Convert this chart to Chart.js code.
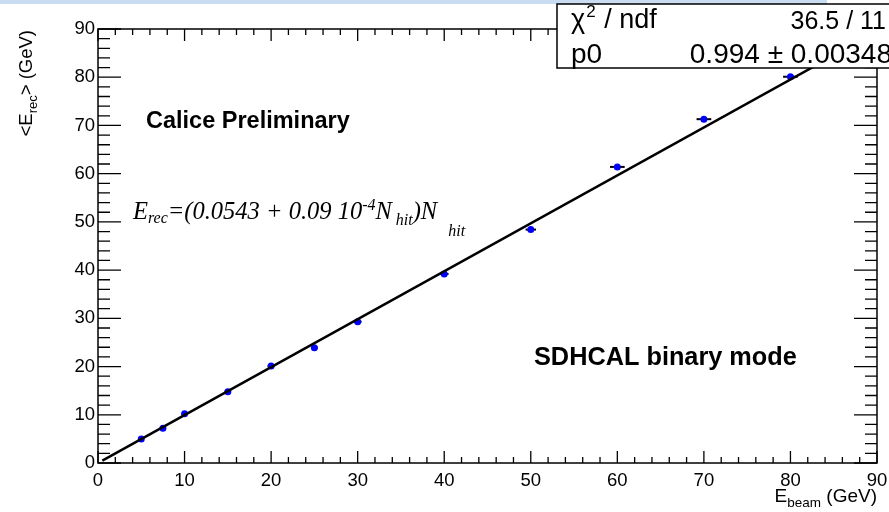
<!DOCTYPE html>
<html>
<head>
<meta charset="utf-8">
<script src="https://cdn.jsdelivr.net/npm/chart.js@4.4.1/dist/chart.umd.min.js"></script>
<style>
  html, body { margin: 0; padding: 0; background: #fff; }
  #wrap { width: 889px; height: 512px; position: relative; }
</style>
</head>
<body>
<div id="wrap"><canvas id="energyChart" width="889" height="512"></canvas></div>
<script>
// beam energy vs reconstructed energy
const beamEnergy = [5, 7.5, 10, 15, 20, 25, 30, 40, 50, 60, 70, 80];
const recEnergy = [5.0, 7.2, 10.2, 14.8, 20.1, 23.9, 29.3, 39.2, 48.4, 61.4, 71.3, 80.1];
const beamErr = [0.3, 0.3, 0.3, 0.35, 0.4, 0.4, 0.45, 0.5, 0.6, 0.85, 0.85, 0.85];

// fit line endpoints (p0 = 0.994)
const fitX = [0.5, 90];
const fitY = [0.5, 89.46];

const axisMin = 0;
const axisMax = 90;
const majorStep = 10;
const minorStep = 2;

const statLabels = ["χ", "p0"];
const statValues = ["36.5 / 11", "0.994 ± 0.00348"];

const sans = "'Liberation Sans', Arial, Helvetica, sans-serif";
const serif = "'Liberation Serif', 'Times New Roman', serif";

// draws a string made of pieces with offsets (sub/superscripts)
function drawPieces(ctx, x, y, pieces) {
  pieces.forEach((p) => {
    ctx.font = p.font;
    ctx.fillText(p.text, x, y + (p.dy || 0));
    x += ctx.measureText(p.text).width + (p.gap || 0);
  });
}

function piecesWidth(ctx, pieces) {
  let w = 0;
  pieces.forEach((p) => { ctx.font = p.font; w += ctx.measureText(p.text).width + (p.gap || 0); });
  return w;
}

const rootStyle = {
  id: "rootStyle",
  beforeDraw(chart) {
    const ctx = chart.ctx;
    ctx.save();
    ctx.fillStyle = "#c9dcf2";
    ctx.fillRect(0, 0, 827, 4);
    ctx.restore();
  },
  beforeDatasetsDraw(chart) {
    const ctx = chart.ctx;
    const xs = chart.scales.x;
    const ys = chart.scales.y;
    ctx.save();
    ctx.strokeStyle = "#000";
    ctx.lineWidth = 2;
    beamEnergy.forEach((e, i) => {
      const py = ys.getPixelForValue(recEnergy[i]);
      ctx.beginPath();
      ctx.moveTo(xs.getPixelForValue(e - beamErr[i]), py);
      ctx.lineTo(xs.getPixelForValue(e + beamErr[i]), py);
      ctx.stroke();
    });
    ctx.restore();
  },
  afterDraw(chart) {
    const ctx = chart.ctx;
    const a = chart.chartArea;
    const xs = chart.scales.x;
    const ys = chart.scales.y;
    ctx.save();
    ctx.strokeStyle = "#000";
    ctx.fillStyle = "#000";

    // frame
    ctx.lineWidth = 1.5;
    ctx.strokeRect(a.left, a.top, a.right - a.left, a.bottom - a.top);

    // ticks on all four sides
    ctx.lineWidth = 1.3;
    for (let v = axisMin; v <= axisMax; v += minorStep) {
      const major = v % majorStep === 0;
      const px = xs.getPixelForValue(v);
      const lx = major ? 12 : 6;
      ctx.beginPath();
      ctx.moveTo(px, a.bottom);
      ctx.lineTo(px, a.bottom - lx);
      ctx.moveTo(px, a.top);
      ctx.lineTo(px, a.top + lx);
      ctx.stroke();
      const py = ys.getPixelForValue(v);
      const ly = major ? 23 : 12;
      ctx.beginPath();
      ctx.moveTo(a.left, py);
      ctx.lineTo(a.left + ly, py);
      ctx.moveTo(a.right, py);
      ctx.lineTo(a.right - ly, py);
      ctx.stroke();
    }

    // annotations
    ctx.textBaseline = "alphabetic";
    ctx.textAlign = "left";
    ctx.font = "bold 23.5px " + sans;
    ctx.fillText("Calice Preliminary", 146, 128);
    ctx.font = "bold 25.3px " + sans;
    ctx.fillText("SDHCAL binary mode", 534, 365);

    const big = "italic 24.5px " + serif;
    const small = "italic 16px " + serif;
    drawPieces(ctx, 133, 219, [
      { text: "E", font: big },
      { text: "rec", font: small, dy: 4 },
      { text: "=(0.0543 + 0.09 10", font: big },
      { text: "-4", font: small, dy: -9 },
      { text: "N", font: big, gap: 4 },
      { text: "hit", font: small, dy: 6 },
      { text: ")N", font: big, gap: 11 },
      { text: "hit", font: small, dy: 17 },
    ]);

    // axis titles
    const xTitle = [
      { text: "E", font: "19px " + sans },
      { text: "beam", font: "13.5px " + sans, dy: 5 },
      { text: " (GeV)", font: "19px " + sans },
    ];
    drawPieces(ctx, a.right - piecesWidth(ctx, xTitle), 502, xTitle);

    const yTitle = [
      { text: "<E", font: "18.5px " + sans },
      { text: "rec", font: "13px " + sans, dy: 5 },
      { text: "> (GeV)", font: "18.5px " + sans },
    ];
    ctx.save();
    ctx.translate(32, a.top + 1);
    ctx.rotate(-Math.PI / 2);
    drawPieces(ctx, -piecesWidth(ctx, yTitle), 0, yTitle);
    ctx.restore();

    // stats box
    ctx.fillStyle = "#fff";
    ctx.fillRect(557, 4, 340, 64);
    ctx.lineWidth = 1.5;
    ctx.strokeRect(557, 4, 340, 64);
    ctx.fillStyle = "#000";
    drawPieces(ctx, 571, 28, [
      { text: statLabels[0], font: "27px " + sans, gap: 1 },
      { text: "2", font: "17px " + sans, dy: -11, gap: 1 },
      { text: " / ndf", font: "27px " + sans },
    ]);
    ctx.font = "28px " + sans;
    ctx.fillText(statLabels[1], 571, 63);
    ctx.textAlign = "right";
    ctx.font = "25px " + sans;
    ctx.fillText(statValues[0], 886, 29);
    ctx.font = "28px " + sans;
    ctx.fillText(statValues[1], 892, 63);
    ctx.restore();
  },
};

const ctx = document.getElementById("energyChart").getContext("2d");
const energyChart = new Chart(ctx, {
  type: "scatter",
  data: {
    datasets: [
      {
        label: "fit",
        type: "line",
        data: fitX.map((x, i) => ({ x, y: fitY[i] })),
        borderColor: "#000",
        borderWidth: 2.5,
        pointRadius: 0,
        fill: false,
        order: 1,
      },
      {
        label: "data",
        data: beamEnergy.map((x, i) => ({ x, y: recEnergy[i] })),
        backgroundColor: "#0000ff",
        borderColor: "#0000ff",
        pointRadius: 3.5,
        borderWidth: 0,
        order: 2,
      },
    ],
  },
  options: {
    responsive: false,
    animation: false,
    events: [],
    layout: { padding: { top: 29, right: 12, left: 0, bottom: 0 } },
    plugins: { legend: { display: false }, tooltip: { enabled: false } },
    scales: {
      x: {
        type: "linear",
        min: axisMin,
        max: axisMax,
        afterFit: (s) => { s.height = 49; s.paddingLeft = 0; s.paddingRight = 0; },
        grid: { display: false, drawTicks: false },
        border: { display: false },
        ticks: {
          stepSize: majorStep,
          autoSkip: false,
          maxRotation: 0,
          padding: 7,
          color: "#000",
          font: { family: sans, size: 18.5 },
        },
      },
      y: {
        type: "linear",
        min: axisMin,
        max: axisMax,
        afterFit: (s) => { s.width = 98; s.paddingTop = 0; s.paddingBottom = 0; },
        grid: { display: false, drawTicks: false },
        border: { display: false },
        ticks: {
          stepSize: majorStep,
          autoSkip: false,
          padding: 3,
          color: "#000",
          font: { family: sans, size: 18.5 },
        },
      },
    },
  },
  plugins: [rootStyle],
});
</script>
</body>
</html>
